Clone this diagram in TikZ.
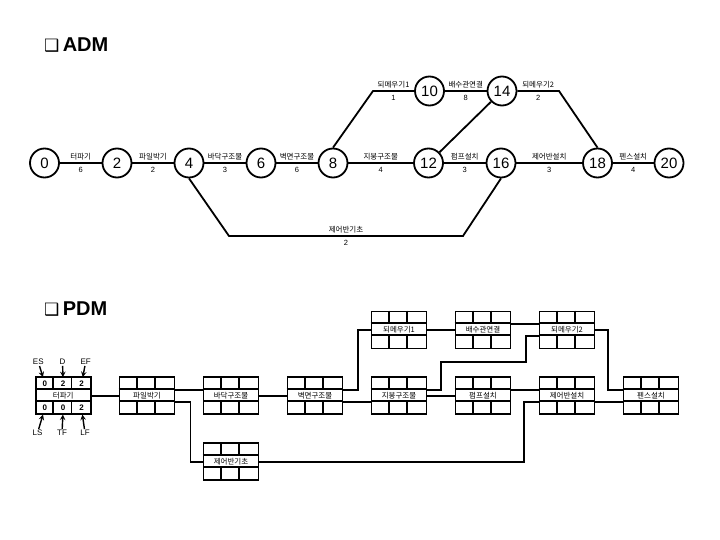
\documentclass[tikz,border=0pt]{standalone}
\usepackage{fontspec}
\setmainfont{Liberation Sans}
\newfontfamily\krfont{Noto Sans CJK KR}
\newfontfamily\symfont{DejaVu Sans}
\usetikzlibrary{shapes.geometric, arrows}
\tikzstyle{event} = [circle, draw=black, line width=1.8pt, minimum size=29pt, inner sep=0pt, font=\fontsize{15}{15}\selectfont]
\tikzstyle{link} = [line width=1.8pt]
\tikzstyle{tasklabel} = [inner sep=1pt, above=1pt, font=\krfont\fontsize{7.5}{8}\selectfont]
\tikzstyle{tasktime} = [inner sep=1pt, below=2pt, font=\fontsize{7.5}{8}\selectfont]
\tikzstyle{activity} = [rectangle, draw=black, line width=1.8pt, minimum width=55pt, minimum height=37pt, inner sep=0pt, font=\krfont\fontsize{7.5}{8}\selectfont]
\tikzstyle{fieldcell} = [rectangle, minimum width=18.33pt, minimum height=12.33pt, inner sep=0pt, font=\bfseries\fontsize{8}{8}\selectfont]
\tikzstyle{legendtag} = [inner sep=1pt, font=\fontsize{8}{8}\selectfont]
\tikzstyle{arrow} = [line width=1.4pt,->,>=stealth]
\tikzstyle{heading} = [anchor=west, inner sep=0pt, font=\bfseries\fontsize{20}{20}\selectfont]

% one PDM activity box with its 3x3 grid
\newcommand{\actbox}[3]{%
  \node (#1) [activity] at (#2) {#3};
  \draw [link] (#1.north west) ++(0,12.33) -- ++(55,0) ++(0,12.33) -- ++(-55,0);
  \draw [link] (#1.north west) ++(18.33,0) -- ++(0,12.33) ++(0,12.33) -- ++(0,12.33);
  \draw [link] (#1.north west) ++(36.67,0) -- ++(0,12.33) ++(0,12.33) -- ++(0,12.33);
}

\begin{document}
\begin{tikzpicture}[x=1pt, y=-1pt]
    \useasboundingbox [fill=white] (0,0) rectangle (720,540);

    % ADM
    \node (adm) [heading] at (44,45.5) {{\symfont\fontsize{17}{17}\selectfont ❑}\,ADM};

    \node (e0) [event] at (44.5,163) {0};
    \node (e2) [event] at (117,163) {2};
    \node (e4) [event] at (189,163) {4};
    \node (e6) [event] at (261,163) {6};
    \node (e8) [event] at (333,163) {8};
    \node (e10) [event] at (429.5,91) {10};
    \node (e14) [event] at (502,91) {14};
    \node (e12) [event] at (428.5,163) {12};
    \node (e16) [event] at (501,163) {16};
    \node (e18) [event] at (597.5,163) {18};
    \node (e20) [event] at (669,163) {20};

    \draw [link] (e0) -- node[tasklabel]{터파기} node[tasktime]{6} (e2);
    \draw [link] (e2) -- node[tasklabel]{파일박기} node[tasktime]{2} (e4);
    \draw [link] (e4) -- node[tasklabel]{바닥구조물} node[tasktime]{3} (e6);
    \draw [link] (e6) -- node[tasklabel]{벽면구조물} node[tasktime]{6} (e8);
    \draw [link] (e8.north) -- (373,91) -- node[tasklabel]{되메우기1} node[tasktime]{1} (e10);
    \draw [link] (e10) -- node[tasklabel]{배수관연결} node[tasktime]{8} (e14);
    \draw [link] (e14) -- node[tasklabel]{되메우기2} node[tasktime]{2} (559,91) -- (e18.north);
    \draw [link] (e14) -- (e12);
    \draw [link] (e8) -- node[tasklabel]{지붕구조물} node[tasktime]{4} (e12);
    \draw [link] (e12) -- node[tasklabel]{펌프설치} node[tasktime]{3} (e16);
    \draw [link] (e16) -- node[tasklabel]{제어반설치} node[tasktime]{3} (e18);
    \draw [link] (e18) -- node[tasklabel]{펜스설치} node[tasktime]{4} (e20);
    \draw [link] (e4.south) -- (229,236) -- node[tasklabel]{제어반기초} node[tasktime]{2} (463,236) -- (e16.south);

    % PDM
    \node (pdm) [heading] at (44,309) {{\symfont\fontsize{17}{17}\selectfont ❑}\,PDM};

    \actbox{dig}{63.2,395.8}{터파기}
    \actbox{pile}{147,395.8}{파일박기}
    \actbox{floor}{231,395.8}{바닥구조물}
    \actbox{wall}{315,395.8}{벽면구조물}
    \actbox{roof}{399,395.8}{지붕구조물}
    \actbox{pump}{483,395.8}{펌프설치}
    \actbox{cpanel}{567,395.8}{제어반설치}
    \actbox{fence}{651,395.8}{펜스설치}
    \actbox{fill1}{399,330}{되메우기1}
    \actbox{drain}{483,330}{배수관연결}
    \actbox{fill2}{567,330}{되메우기2}
    \actbox{cbase}{231,461.7}{제어반기초}

    \draw [link] (dig) -- (pile);
    \draw [link] ([yshift=6.17pt]pile.east) -- ([yshift=6.17pt]floor.west);
    \draw [link] ([yshift=-6.17pt]pile.east) -- ++(15,0) |- (cbase);
    \draw [link] (floor) -- (wall);
    \draw [link] ([yshift=6.17pt]wall.east) -- ++(14.5,0) |- (fill1);
    \draw [link] ([yshift=-6.17pt]wall.east) -- ([yshift=-6.17pt]roof.west);
    \draw [link] (fill1) -- (drain);
    \draw [link] ([yshift=6.17pt]drain.east) -- ([yshift=6.17pt]fill2.west);
    \draw [link] ([yshift=6.17pt]roof.east) -- ++(13.3,0) |- ++(85,-27.6) |- ([yshift=-6.17pt]fill2.west);
    \draw [link] (fill2.east) -- ++(12.5,0) |- ([yshift=6.17pt]fence.west);
    \draw [link] (roof) -- (pump);
    \draw [link] ([yshift=6.17pt]pump.east) -- ([yshift=6.17pt]cpanel.west);
    \draw [link] (cbase) -| ([xshift=-14.5pt,yshift=-6.17pt]cpanel.west) -- ([yshift=-6.17pt]cpanel.west);
    \draw [link] ([yshift=-6.17pt]cpanel.east) -- ([yshift=-6.17pt]fence.west);

    % legend on the first box
    \node (ces) [fieldcell] at (44.9,383.5) {0};
    \node (cd) [fieldcell] at (63.2,383.5) {2};
    \node (cef) [fieldcell] at (81.5,383.5) {2};
    \node (cls) [fieldcell] at (44.9,408.2) {0};
    \node (ctf) [fieldcell] at (63.2,408.2) {0};
    \node (clf) [fieldcell] at (81.5,408.2) {2};

    \node (es) [legendtag] at (38.3,362) {ES};
    \node (d) [legendtag] at (62.5,362) {D};
    \node (ef) [legendtag] at (85.7,362) {EF};
    \node (ls) [legendtag] at (37.5,433) {LS};
    \node (tf) [legendtag] at (62,433) {TF};
    \node (lf) [legendtag] at (85,433) {LF};

    \draw [arrow] (es) -- (ces);
    \draw [arrow] (d) -- (cd);
    \draw [arrow] (ef) -- (cef);
    \draw [arrow] (ls) -- (cls);
    \draw [arrow] (tf) -- (ctf);
    \draw [arrow] (lf) -- (clf);
\end{tikzpicture}
\end{document}
